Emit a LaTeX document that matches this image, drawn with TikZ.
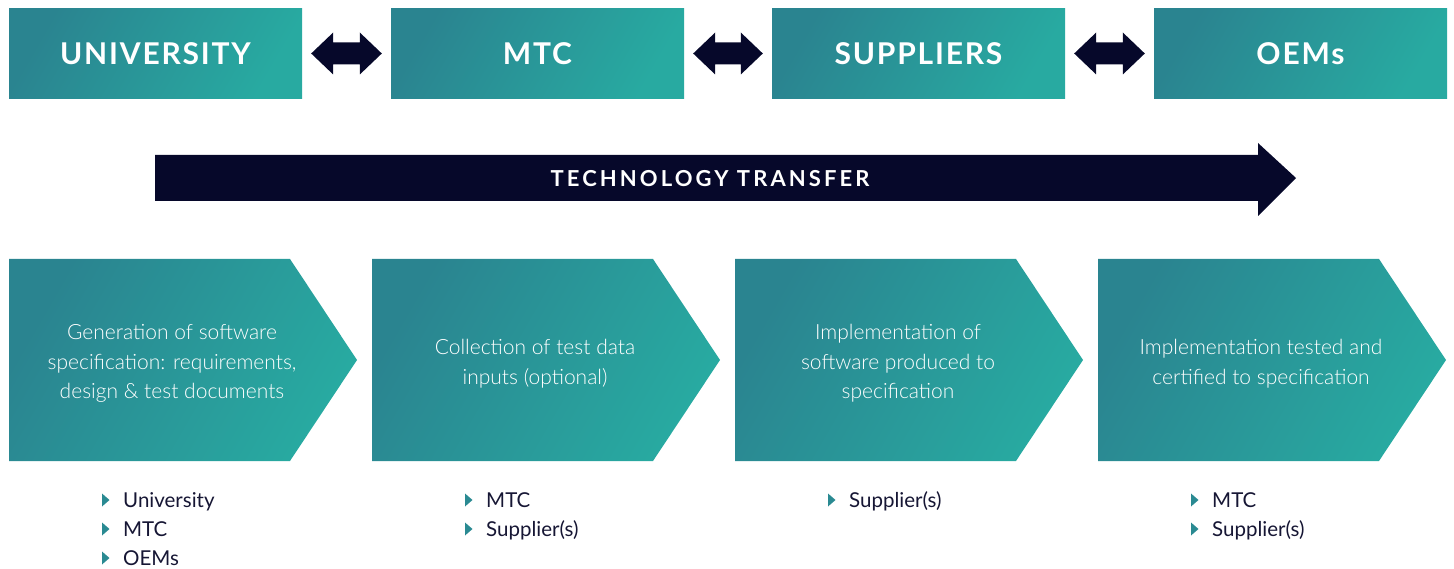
\documentclass[tikz,border=0pt]{standalone}
\usepackage{fontspec}
\setmainfont{Lato}
\newfontfamily\headfont[LetterSpace=6]{Lato}
\newfontfamily\bannerfont[LetterSpace=14]{Lato}
\IfFontExistsTF{Lato Light}
  {\newfontfamily\stagefont{Lato Light}}
  {\newfontfamily\stagefont{Lato}}
\usetikzlibrary{calc}

\definecolor{tealA}{RGB}{42,132,144}
\definecolor{tealB}{RGB}{40,170,161}
\definecolor{navy}{RGB}{6,8,42}
\definecolor{bullettext}{RGB}{22,22,52}
\definecolor{bulletmark}{RGB}{42,138,146}

\tikzset{
  tealfill/.style={left color=tealA, right color=tealB, shading angle=60},
  topbox/.style={tealfill, minimum width=293pt, minimum height=90pt, inner sep=0pt,
    text=white, font=\headfont\bfseries\fontsize{30}{36}\selectfont},
  stagetext/.style={align=center, text=white, inner sep=0pt,
    font=\stagefont\fontsize{21}{29.5}\selectfont},
  itemtext/.style={anchor=base west, inner sep=0pt, text=bullettext,
    font=\fontsize{20.5}{24}\selectfont},
  banner/.style={text=white, inner sep=0pt, font=\bannerfont\bfseries\fontsize{22}{26}\selectfont}
}

\begin{document}
\begin{tikzpicture}[x=1pt,y=-1pt]
\useasboundingbox (0,0) rectangle (1454,569);

% partner boxes
\node[topbox] (uni) at (155.5,53.5) {UNIVERSITY};
\node[topbox] (mtc) at (537.5,53.5) {MTC};
\node[topbox] (sup) at (918.5,53.5) {SUPPLIERS};
\node[topbox] (oem) at (1300.5,53.5) {OEMs};

% two-way links between neighbouring partners
\foreach \a/\b in {uni/mtc,mtc/sup,sup/oem}{
  \fill[navy] ($(\a.east)+(9,0)$) -- ($(\a.east)+(31,-21)$) -- ($(\a.east)+(31,-11)$)
    -- ($(\b.west)+(-31,-11)$) -- ($(\b.west)+(-31,-21)$) -- ($(\b.west)+(-9,0)$)
    -- ($(\b.west)+(-31,21)$) -- ($(\b.west)+(-31,11)$)
    -- ($(\a.east)+(31,11)$) -- ($(\a.east)+(31,21)$) -- cycle;
}

% technology transfer arrow
\coordinate (tts) at (155,178);
\coordinate (tte) at (1296,178);
\fill[navy] ($(tts)+(0,-23)$) -- ($(tte)+(-38,-23)$) -- ($(tte)+(-38,-35)$) -- (tte)
  -- ($(tte)+(-38,38)$) -- ($(tte)+(-38,23)$) -- ($(tts)+(0,23)$) -- cycle;
\node[banner] (tt) at (710,179) {TECHNOLOGY TRANSFER};

% process stages
\foreach \i/\txt in {0/{Generation of software\\specification: requirements,\\design \& test documents},
                     1/{Collection of test data\\inputs (optional)},
                     2/{Implementation of\\software produced to\\specification},
                     3/{Implementation tested and\\certified to specification}}{
  \pgfmathsetmacro{\xo}{9+363*\i}
  \shade[tealfill] (\xo,259) -- (\xo+281,259) -- (\xo+348,360) -- (\xo+281,461)
    -- (\xo,461) -- cycle;
  \node[stagetext] (stage\i) at (\xo+163,363.5) {\txt};
}

% who is involved in each stage
\foreach \i/\lst in {0/{University,MTC,OEMs},1/{MTC,Supplier(s)},2/{Supplier(s)},3/{MTC,Supplier(s)}}{
  \pgfmathsetmacro{\xo}{9+363*\i}
  \foreach \w [count=\k from 0] in \lst {
    \pgfmathsetmacro{\yy}{500+29*\k}
    \fill[bulletmark] (\xo+93,\yy-6.5) -- (\xo+100.5,\yy) -- (\xo+93,\yy+6.5) -- cycle;
    \node[itemtext] (item\i-\k) at (\xo+114,\yy+7.5) {\w};
  }
}
\end{tikzpicture}
\end{document}
